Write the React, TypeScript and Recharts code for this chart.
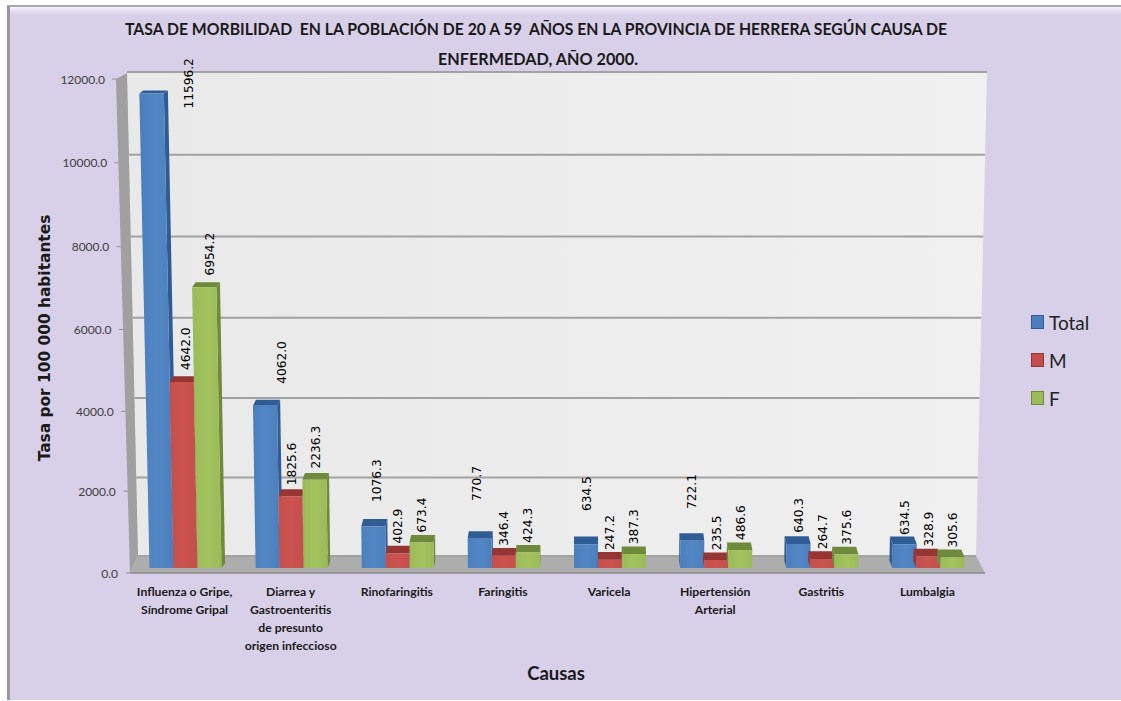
import { BarChart, Bar, XAxis, YAxis, CartesianGrid, Legend, LabelList } from "recharts";

const categories = [
    "Influenza o Gripe,\nSíndrome Gripal",
    "Diarrea y\nGastroenteritis\nde presunto\norigen infeccioso",
    "Rinofaringitis",
    "Faringitis",
    "Varicela",
    "Hipertensión\nArterial",
    "Gastritis",
    "Lumbalgia",
];
const totalValues = [11596.2, 4062.0, 1076.3, 770.7, 634.5, 722.1, 640.3, 634.5];
const maleValues = [4642.0, 1825.6, 402.9, 346.4, 247.2, 235.5, 264.7, 328.9];
const femaleValues = [6954.2, 2236.3, 673.4, 424.3, 387.3, 486.6, 375.6, 305.6];
const yTicks = [0, 2000, 4000, 6000, 8000, 10000, 12000];

const data = categories.map((name, i) => ({
    name,
    Total: totalValues[i],
    M: maleValues[i],
    F: femaleValues[i],
}));

// Total labels float off their bars in the original, so each one gets its own nudge
const totalLabelNudge = [[28, 11], [14, -22], [3, -26], [-3, -39.5], [1, -35], [0, -33.5], [1, -13], [1, -11]];
// tick labels in the original are not quite evenly spaced (perspective)
const yTickNudge = [1, 1, 3, 3, 2, 0, -2];

const WIDTH = 1121;
const HEIGHT = 701;
const PLOT_TOP = 81;
const PLOT_BOTTOM = 572;
const PLOT_H = PLOT_BOTTOM - PLOT_TOP;
const VANISH_X = 579;

const colors = {
    Total: { light: "#5287c6", base: "#4c7ebc", dark: "#2f5c94" },
    M: { light: "#cb5350", base: "#c44f4c", dark: "#963634" },
    F: { light: "#a3c35f", base: "#9bbb59", dark: "#6f8a3a" },
};

function pts(list: number[][]) {
    return list.map((p) => p.join(",")).join(" ");
}

function Bar3D(props: any) {
    const { x, y, width, height, seriesKey } = props;
    const c = colors[seriesKey as keyof typeof colors];
    const t = height / PLOT_H;
    const base = y + height - 4;
    // front face top drifts a little from the flat scale because of the perspective
    const top = y - 2.5 + 12 * t - 14 * t * t;
    const lean = (px: number) => ((px - VANISH_X) / 449) * 11 * t;
    const dx = (VANISH_X - x) * 0.0093;
    const d = 7.8 - 5 * t;
    const tl = [x + lean(x), top];
    const tr = [x + width + lean(x + width), top];
    const edge = dx > 0 ? x + width : x;
    const et = dx > 0 ? tr : tl;
    return (
        <g>
            <polygon
                points={pts([[edge, base], et, [et[0] + dx, top - d], [edge + dx, base - d]])}
                fill={c.dark}
            />
            <polygon points={pts([tl, tr, [tr[0] + dx, top - d], [tl[0] + dx, top - d]])} fill={c.dark} />
            <polygon points={pts([[x, base], [x + width, base], tr, tl])} fill={`url(#face-${seriesKey})`} />
        </g>
    );
}

function valueLabel(seriesKey: string) {
    return (props: any) => {
        const { x, y, width, value, index } = props;
        let nudge = [0.5, -12];
        if (seriesKey === "Total") nudge = totalLabelNudge[index];
        const lx = x + width / 2 + nudge[0];
        const ly = y + nudge[1];
        return (
            <text
                x={lx}
                y={ly}
                transform={`rotate(-90 ${lx} ${ly})`}
                dominantBaseline="central"
                fontFamily="DejaVu Sans"
                fontSize={12.2}
                fill="#000"
            >
                {Number(value).toFixed(1)}
            </text>
        );
    };
}

function YTick(props: any) {
    const { y, payload, index } = props;
    const t = payload.value / 12000;
    const end = 118 - 13 * t;
    const edge = 130 - 14 * t;
    const ty = y + yTickNudge[index];
    return (
        <g>
            <line x1={edge - 4} x2={edge} y1={ty} y2={ty} stroke="#8c8c8c" />
            <text x={end} y={ty} textAnchor="end" dominantBaseline="central" fontFamily="Lato" fontSize={12} fill="#404040">
                {payload.value.toFixed(1)}
            </text>
        </g>
    );
}

function XTick(props: any) {
    const { x, payload } = props;
    return (
        <g>
            {String(payload.value).split("\n").map((line, i) => (
                <text
                    key={line}
                    x={x - 1}
                    y={596 + i * 18}
                    textAnchor="middle"
                    fontFamily="Lato"
                    fontWeight={700}
                    fontSize={12.2}
                    fill="#1a1a1a"
                >
                    {line}
                </text>
            ))}
        </g>
    );
}

// grid sits on the back wall, which is shorter than the front axis
function BackGridLine(props: any) {
    const { y1 } = props;
    const t = (PLOT_BOTTOM - y1) / PLOT_H;
    const y = 556 - 469.2 * t - 14.8 * t * t;
    const frac = (556 - y) / 484;
    return (
        <line
            x1={138 - 11 * frac}
            x2={976 + 11 * frac}
            y1={y}
            y2={y}
            stroke="#a2a2a2"
            strokeWidth={2}
        />
    );
}

function LegendBox(props: any) {
    const items = ["Total", "M", "F"];
    return (
        <div style={{ fontFamily: "Lato", fontSize: 19, color: "#222" }}>
            {items.map((name) => (
                <div key={name} style={{ display: "flex", alignItems: "center", height: 38 }}>
                    <span
                        style={{
                            width: 11,
                            height: 12,
                            marginRight: 5,
                            background: colors[name as keyof typeof colors].base,
                            border: `1px solid ${colors[name as keyof typeof colors].dark}`,
                        }}
                    />
                    {name}
                </div>
            ))}
        </div>
    );
}

export default function App() {
    return (
        <div style={{ position: "absolute", left: 0, top: 0, width: WIDTH, height: HEIGHT, background: "#fff", overflow: "hidden" }}>
            <svg width={WIDTH} height={HEIGHT} style={{ position: "absolute", left: 0, top: 0 }}>
                <defs>
                    <linearGradient id="bevel" x1="0" y1="0" x2="0" y2="1">
                        <stop offset="0" stopColor="#f6f2fb" />
                        <stop offset="1" stopColor="#d8cfe8" />
                    </linearGradient>
                    <linearGradient id="wall" x1="0" y1="0" x2="1" y2="0">
                        <stop offset="0" stopColor="#e9e9e9" />
                        <stop offset="1" stopColor="#f0f0f0" />
                    </linearGradient>
                </defs>
                <rect x={7} y={6} width={WIDTH - 7} height={HEIGHT - 7} fill="#d8cfe8" />
                <rect x={10} y={7} width={WIDTH - 10} height={8} fill="url(#bevel)" />
                <rect x={7} y={5} width={WIDTH - 7} height={2} fill="#aaa6b0" />
                <rect x={7} y={6} width={3} height={HEIGHT - 7} fill="#9a97a0" />
                <polygon points="127,73 987,73 976,556 138,556" fill="url(#wall)" />
                <polygon points="116,79 127,73 138,556 130,573" fill="#a0a0a0" />
                <polygon points="138,556 976,556 985,573 130,573" fill="#adadad" />
                <line x1={130} x2={985} y1={573} y2={573} stroke="#8a8a8a" strokeWidth={1.5} />
            </svg>
            <BarChart
                width={WIDTH}
                height={HEIGHT}
                data={data}
                margin={{ top: PLOT_TOP, right: 49.5, bottom: 99, left: 42.5 }}
                barGap={0}
                barSize={24}
                style={{ position: "absolute", left: 0, top: 0 }}
            >
                <defs>
                    {Object.entries(colors).map(([key, c]) => (
                        <linearGradient key={key} id={`face-${key}`} x1="0" y1="0" x2="1" y2="0">
                            <stop offset="0" stopColor={c.base} />
                            <stop offset="0.5" stopColor={c.light} />
                            <stop offset="1" stopColor={c.base} />
                        </linearGradient>
                    ))}
                </defs>
                <CartesianGrid vertical={false} horizontal={(p: any) => <BackGridLine key={p.key ?? p.y1} {...p} />} />
                <XAxis dataKey="name" interval={0} height={30} axisLine={false} tickLine={false} tick={<XTick />} />
                <YAxis
                    domain={[0, 12000]}
                    ticks={yTicks}
                    width={90}
                    axisLine={false}
                    tickLine={false}
                    tick={<YTick />}
                />
                <Legend
                    layout="vertical"
                    align="right"
                    verticalAlign="middle"
                    width={90}
                    content={<LegendBox />}
                    wrapperStyle={{ left: 1031, top: 303 }}
                />
                {(["Total", "M", "F"] as const).map((key) => (
                    <Bar
                        key={key}
                        dataKey={key}
                        fill={colors[key].base}
                        isAnimationActive={false}
                        shape={<Bar3D seriesKey={key} />}
                    >
                        <LabelList dataKey={key} content={valueLabel(key)} />
                    </Bar>
                ))}
                <text x={536} y={35} textAnchor="middle" fontFamily="Lato" fontWeight={700} fontSize={17.5} fill="#1a1a1a" textLength={822} lengthAdjust="spacingAndGlyphs" style={{ whiteSpace: "pre" }}>
                    TASA DE MORBILIDAD  EN LA POBLACIÓN DE 20 A 59  AÑOS EN LA PROVINCIA DE HERRERA SEGÚN CAUSA DE
                </text>
                <text x={538} y={65} textAnchor="middle" fontFamily="Lato" fontWeight={700} fontSize={17.5} fill="#1a1a1a" textLength={200} lengthAdjust="spacingAndGlyphs">
                    ENFERMEDAD, AÑO 2000.
                </text>
                <text x={50} y={338} textAnchor="middle" transform="rotate(-90 50 338)" fontFamily="DejaVu Sans" fontWeight={700} fontSize={15.4} fill="#1a1a1a">
                    Tasa por 100 000 habitantes
                </text>
                <text x={556} y={680} textAnchor="middle" fontFamily="Lato" fontWeight={700} fontSize={18.5} fill="#1a1a1a">
                    Causas
                </text>
            </BarChart>
        </div>
    );
}
